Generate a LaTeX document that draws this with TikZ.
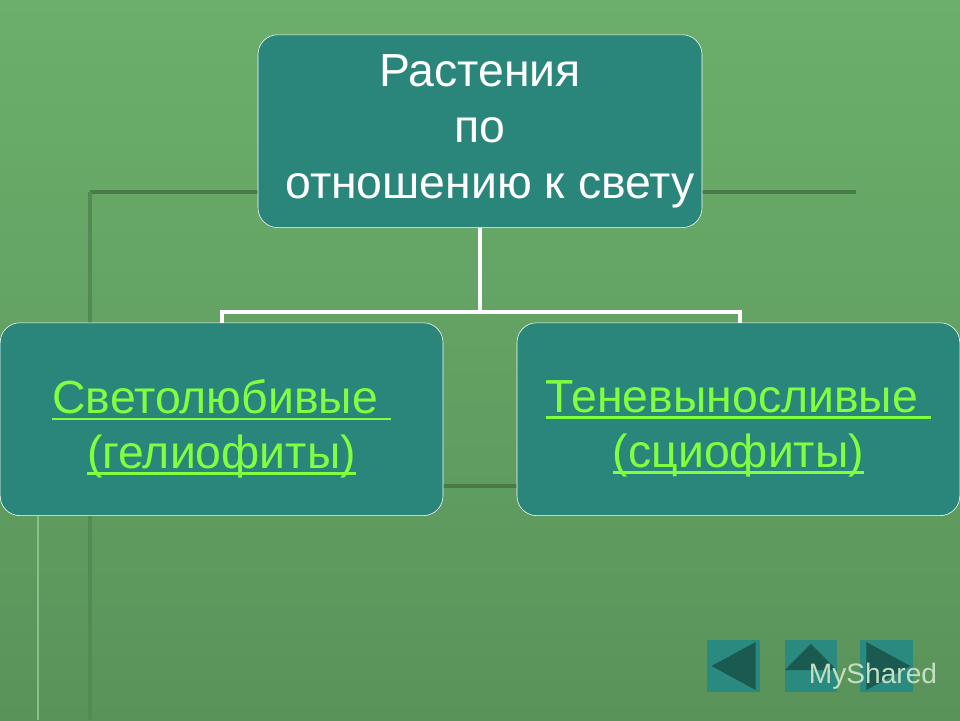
\documentclass[tikz,border=0pt]{standalone}
\usepackage{fontspec}
\setmainfont{Liberation Sans}
\usetikzlibrary{positioning}
\definecolor{boxteal}{HTML}{2A857A}
\definecolor{linkgreen}{HTML}{80FF40}
\definecolor{bgtop}{HTML}{6BAF6B}
\definecolor{bgbot}{HTML}{5A935A}
\definecolor{rule}{HTML}{4A7A48}
\definecolor{btn}{HTML}{2A8A80}
\definecolor{btndark}{HTML}{1A5A50}
\newlength{\linkwd}
\newcommand{\linktext}[1]{\settowidth{\linkwd}{#1}#1\llap{\rule[-4.5pt]{\linkwd}{2pt}}}
\tikzset{
  topic/.style={draw=white, fill=boxteal, rounded corners=14pt, minimum width=11.1cm,
    minimum height=4.82cm, align=center, font=\fontsize{33}{40}\selectfont, text=white},
  kind/.style={draw=white, fill=boxteal, rounded corners=14pt, minimum width=11.07cm,
    minimum height=4.82cm, align=center, font=\fontsize{33}{39}\selectfont, text=linkgreen},
  branch/.style={white, line width=3.5pt},
  navbtn/.style={fill=btn, minimum size=1.32cm, inner sep=0pt}
}
\begin{document}
\begin{tikzpicture}
 \shade[top color=bgtop, bottom color=bgbot] (0,0) rectangle (24,-18);
 \useasboundingbox (0,0) rectangle (24,-18);
 % frame lines
 \draw[rule, line width=2.5pt] (2.25,-4.8) -- (21.4,-4.8);
 \draw[rule!70!bgtop, line width=3pt] (2.25,-4.8) -- (2.25,-18);
 \draw[rule, line width=2.5pt] (11,-12.15) -- (13,-12.15);
 \draw[bgtop!80!white, line width=2pt] (0.95,-12.3) -- (0.95,-18);
 % boxes
 \node[topic] (plants) at (12,-3.28) {Растения\\по\\\hspace*{0.5cm}отношению к свету};
 \node[kind] (helio) at (5.54,-10.48) {};
 \node[kind] (scio) at (18.46,-10.48) {};
 \node[kind, draw=none, fill=none, yshift=-0.25cm] (helio text) at (helio) {\linktext{Светолюбивые\ }\\\linktext{(гелиофиты)}};
 \node[kind, draw=none, fill=none, yshift=-0.25cm] (scio text) at (scio) {\linktext{Теневыносливые\ }\\\linktext{(сциофиты)}};
 % connectors
 \coordinate (fork) at (12,-7.8);
 \draw[branch] (plants.south) -- (fork);
 \draw[branch] (helio.north -| 5.55,0) |- (fork) -| (scio.north -| 18.5,0);
 % navigation
 \node[navbtn] (back) at (18.34,-16.65) {};
 \node[navbtn, right=0.6cm of back] (home) {};
 \node[navbtn, right=0.55cm of home] (next) {};
 \fill[btndark] ([xshift=-0.55cm]back.center) -- ++(1.1,0.6) -- ++(0,-1.2) -- cycle;
 \fill[btndark] ([yshift=0.55cm]home.center) -- ++(-0.65,-0.65) -- ++(1.3,0) -- cycle;
 \fill[btndark] ([xshift=0.6cm]next.center) -- ++(-1.1,0.6) -- ++(0,-1.2) -- cycle;
 \node[text=white!60!bgtop, font=\fontsize{20}{24}\selectfont, anchor=west] (mark) at (20.1,-16.9) {MyShared};
\end{tikzpicture}
\end{document}
